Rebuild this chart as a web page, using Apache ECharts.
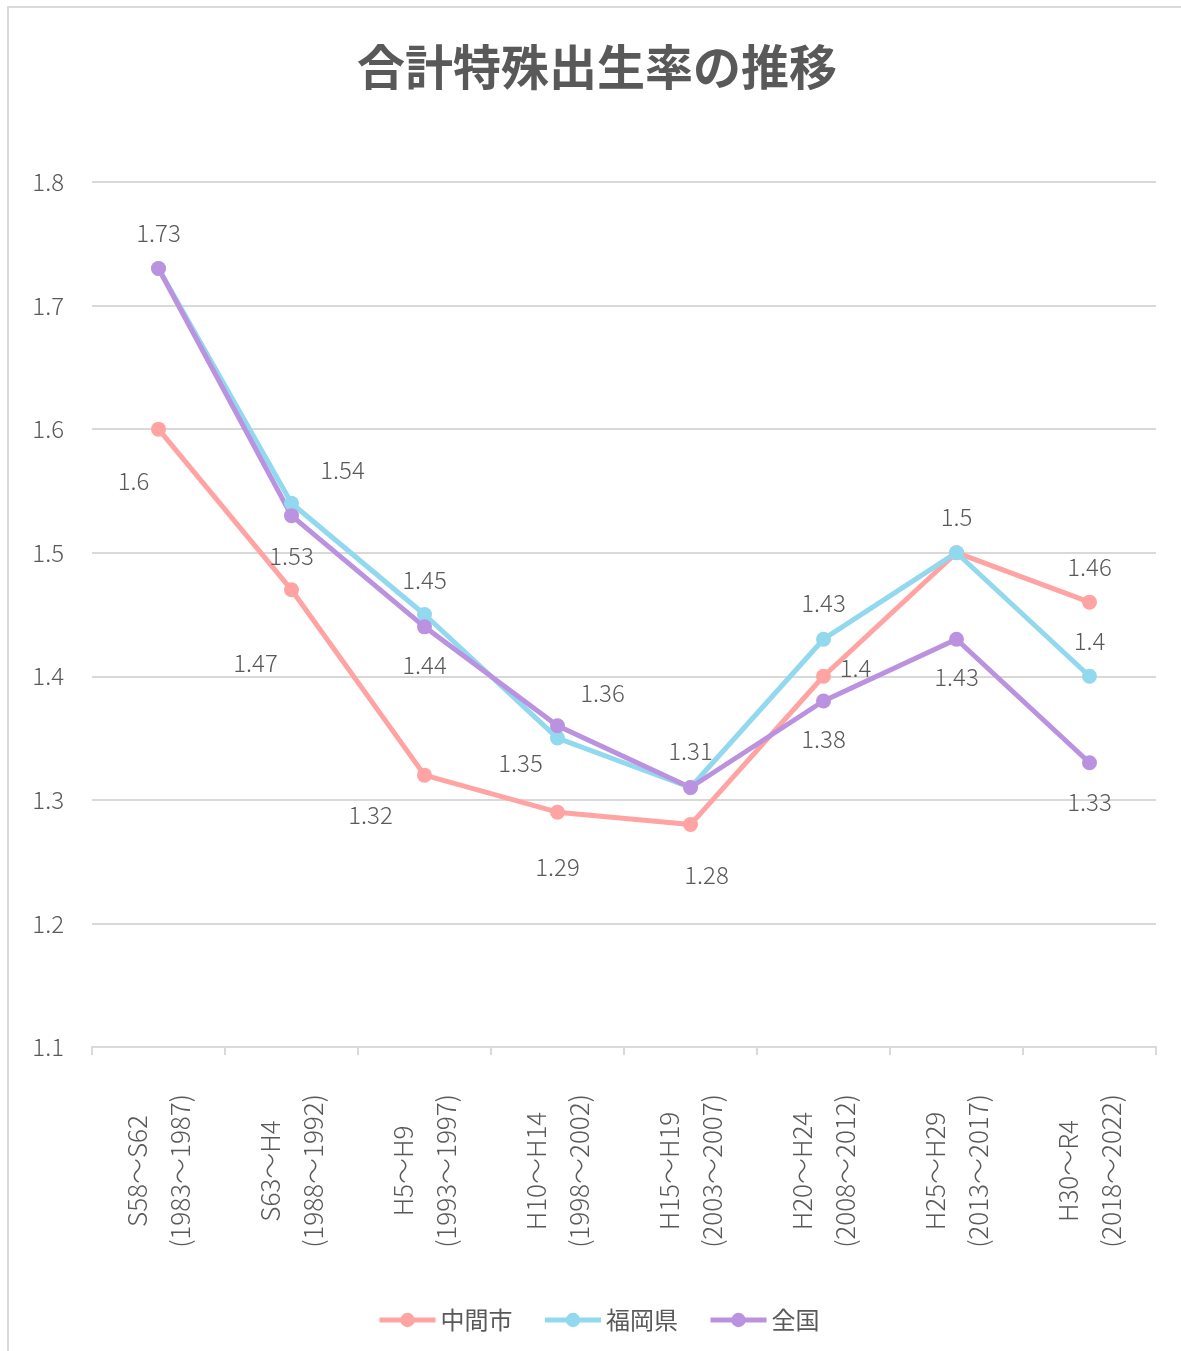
<!DOCTYPE html>
<html>
<head>
<meta charset="utf-8">
<script src="https://cdn.jsdelivr.net/npm/echarts@6/dist/echarts.min.js"></script>
<style>
  html, body { margin: 0; padding: 0; background: #fff; }
  #chart { width: 1181px; height: 1351px; }
</style>
</head>
<body>
<div id="chart"></div>
<script>
// カテゴリ（期間）
const periods = [
  'S58～S62\n(1983～1987)',
  'S63～H4\n(1988～1992)',
  'H5～H9\n(1993～1997)',
  'H10～H14\n(1998～2002)',
  'H15～H19\n(2003～2007)',
  'H20～H24\n(2008～2012)',
  'H25～H29\n(2013～2017)',
  'H30～R4\n(2018～2022)'
]

// 合計特殊出生率
const nakama = [1.6, 1.47, 1.32, 1.29, 1.28, 1.4, 1.5, 1.46]
const fukuoka = [1.73, 1.54, 1.45, 1.35, 1.31, 1.43, 1.5, 1.4]
const zenkoku = [1.73, 1.53, 1.44, 1.36, 1.31, 1.38, 1.43, 1.33]

// ラベルの位置ずらし（null は非表示）
const nakamaOffsets = [[-25, 52], [-36, 73], [-54, 40], [0, 55], [16, 50], [32, -8], null, [0, -35]]
const fukuokaOffsets = [null, [51, -33], [0, -35], [-37, 25], [0, -37], [0, -36], [0, -36], [0, -35]]
const zenkokuOffsets = [[0, -36], [0, 40], [0, 38], [45, -33], null, [0, 38], [0, 38], [0, 39]]

const textColor = '#595959'
const font = '"Noto Sans CJK JP", "Noto Sans", sans-serif'

const buildData = (values, offsets) => values.map((v, i) => ({
  value: v,
  label: offsets[i] ? { show: true, offset: offsets[i] } : { show: false }
}))

const makeSeries = (name, color, values, offsets) => ({
  name,
  type: 'line',
  data: buildData(values, offsets),
  symbol: 'circle',
  symbolSize: 15,
  lineStyle: { color, width: 5 },
  itemStyle: { color },
  label: {
    show: true,
    position: 'inside',
    color: textColor,
    fontSize: 24,
    fontFamily: font,
    fontWeight: 300
  },
  emphasis: { disabled: true }
})

const chart = echarts.init(document.getElementById('chart'))
chart.setOption({
  animation: false,
  backgroundColor: '#fff',
  graphic: [{
    type: 'rect',
    shape: { x: 8, y: 7, width: 1200, height: 1400 },
    style: { fill: 'none', stroke: '#d9d9d9', lineWidth: 2 },
    silent: true
  }],
  title: {
    text: '合計特殊出生率の推移',
    left: 352,
    top: 38,
    textStyle: { color: textColor, fontSize: 48, fontWeight: 'bold', fontFamily: font }
  },
  legend: {
    bottom: 14,
    left: 372,
    itemWidth: 56,
    itemHeight: 18,
    itemGap: 30,
    lineStyle: { width: 5 },
    textStyle: { color: textColor, fontSize: 24, fontFamily: font },
    data: ['中間市', '福岡県', '全国']
  },
  grid: { left: 92, right: 25, top: 182, bottom: 304 },
  xAxis: {
    type: 'category',
    data: periods,
    boundaryGap: true,
    axisLine: { lineStyle: { color: '#d9d9d9', width: 2 } },
    axisTick: { show: true, length: 8, lineStyle: { color: '#d9d9d9', width: 2 } },
    axisLabel: {
      rotate: 90,
      interval: 0,
      align: 'center',
      verticalAlign: 'middle',
      margin: 124,
      color: textColor,
      fontSize: 26,
      lineHeight: 43,
      fontFamily: font,
      fontWeight: 300
    }
  },
  yAxis: {
    type: 'value',
    min: 1.1,
    max: 1.8,
    interval: 0.1,
    axisLine: { show: false },
    axisTick: { show: false },
    splitLine: { lineStyle: { color: '#d9d9d9', width: 2 } },
    axisLabel: {
      color: textColor,
      fontSize: 24,
      margin: 28,
      fontFamily: font,
      fontWeight: 300,
      formatter: v => v.toFixed(1)
    }
  },
  series: [
    makeSeries('中間市', '#ffa3a3', nakama, nakamaOffsets),
    makeSeries('福岡県', '#92d8ef', fukuoka, fukuokaOffsets),
    makeSeries('全国', '#bb92e0', zenkoku, zenkokuOffsets)
  ]
})
</script>
</body>
</html>
